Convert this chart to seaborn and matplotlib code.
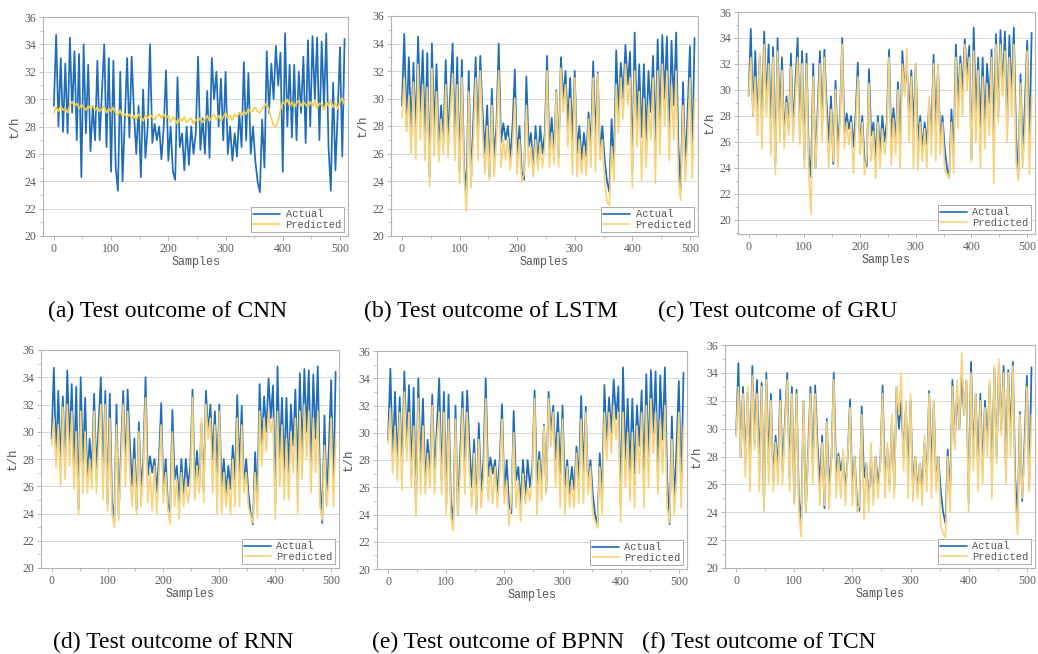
import matplotlib
matplotlib.use("Agg")
import matplotlib.pyplot as plt
import seaborn as sns
import numpy as np
from matplotlib.ticker import MultipleLocator

sns.set_theme(style="ticks")

# sample index (every 4th test sample)
samples = list(range(0, 512, 4))

actual = [29.5, 34.7, 28.0, 33.0, 27.6, 32.6, 27.5, 34.5, 29.0, 33.5, 27.0, 33.3, 24.3, 34.0, 27.5, 32.5,
          26.2, 29.5, 27.0, 32.8, 27.0, 30.5, 34.0, 26.5, 33.0, 24.7, 32.8, 25.0, 23.3, 32.0, 24.0, 28.5,
          33.0, 27.2, 33.1, 29.0, 26.0, 29.5, 24.3, 30.7, 25.7, 28.0, 34.0, 26.8, 28.2, 27.0, 28.0, 25.6,
          28.0, 32.1, 25.5, 28.0, 24.7, 24.1, 31.6, 26.5, 27.5, 24.8, 28.0, 25.2, 28.0, 26.0, 27.5, 33.1,
          26.3, 28.6, 26.0, 30.6, 25.7, 33.0, 30.0, 32.0, 28.0, 31.5, 27.0, 32.0, 26.0, 28.0, 25.5, 27.5,
          25.8, 29.0, 26.5, 32.7, 27.0, 31.9, 26.0, 28.0, 25.5, 24.0, 23.2, 28.5, 25.0, 33.5, 29.0, 32.6,
          30.0, 33.9, 31.0, 33.4, 24.7, 34.8, 28.0, 32.5, 27.2, 32.5, 27.0, 32.0, 29.0, 33.1, 26.8, 34.3,
          28.0, 34.6, 30.0, 34.5, 27.0, 34.2, 29.5, 34.8, 26.5, 23.3, 31.2, 24.8, 29.0, 33.8, 25.8, 34.4]

pred_cnn = [29.0, 29.4, 29.1, 29.5, 29.2, 29.3, 29.0, 29.6, 29.8, 29.5, 29.7, 29.3, 29.6, 29.4, 29.2, 29.5,
            29.3, 29.5, 29.2, 29.4, 29.1, 29.3, 29.5, 29.0, 29.3, 29.1, 29.4, 29.0, 28.8, 29.2, 28.7, 28.9,
            28.7, 28.9, 28.6, 28.8, 28.5, 28.9, 28.7, 28.4, 28.8, 28.6, 28.9, 28.7, 28.5, 28.8, 28.9, 28.6,
            28.9, 28.6, 28.8, 28.3, 28.7, 28.5, 28.2, 28.6, 28.4, 28.7, 28.3, 28.5, 28.6, 28.2, 28.5, 28.4,
            28.6, 28.3, 28.5, 28.8, 28.4, 28.7, 28.9, 28.5, 28.8, 28.4, 28.7, 29.0, 28.6, 28.8, 28.5, 28.9,
            28.7, 29.0, 28.8, 29.1, 28.9, 29.3, 29.0, 29.2, 29.4, 29.1, 29.0, 29.3, 29.5, 29.7, 29.2, 28.6,
            28.1, 28.0, 28.4, 29.2, 29.8, 29.6, 30.0, 29.5, 29.8, 29.4, 29.7, 29.9, 29.5, 29.8, 29.6, 29.4,
            29.8, 29.5, 29.9, 29.3, 29.7, 29.6, 29.2, 29.8, 29.5, 29.9, 29.4, 29.7, 29.3, 29.8, 30.1, 29.6]

pred_lstm = [28.6, 31.5, 27.6, 30.2, 26.0, 31.2, 25.6, 32.5, 27.0, 31.0, 25.5, 30.8, 23.6, 32.2, 25.8, 30.5,
             25.4, 28.5, 26.0, 31.0, 25.7, 29.0, 31.8, 25.5, 31.0, 23.8, 31.5, 24.2, 21.8, 30.5, 23.5, 27.0,
             31.5, 25.5, 32.0, 27.5, 24.5, 28.0, 24.0, 29.5, 24.3, 27.0, 32.0, 25.0, 27.0, 25.5, 27.2, 24.8,
             26.5, 30.0, 24.5, 27.0, 23.9, 24.5, 29.5, 25.0, 26.5, 24.3, 27.0, 24.8, 26.8, 25.0, 26.5, 32.0,
             25.0, 27.5, 25.2, 30.5, 25.0, 32.2, 29.0, 31.0, 26.5, 30.0, 24.5, 31.5, 24.3, 27.0, 24.5, 26.5,
             24.4, 28.5, 25.0, 31.5, 24.7, 31.8, 25.5, 27.0, 24.0, 22.5, 22.2, 26.5, 24.0, 31.0, 27.5, 31.5,
             28.5, 32.5, 29.5, 31.5, 23.5, 32.0, 26.5, 30.5, 24.0, 30.0, 25.0, 29.5, 27.0, 31.5, 23.8, 32.0,
             26.0, 32.5, 28.0, 32.0, 25.5, 31.0, 27.0, 32.0, 24.0, 22.6, 29.5, 24.0, 27.0, 31.5, 24.2, 30.0]

pred_gru = [29.5, 32.5, 28.0, 31.0, 26.5, 32.8, 25.5, 33.5, 28.0, 32.0, 25.0, 32.5, 23.5, 33.0, 26.0, 31.5,
            25.5, 29.0, 26.5, 31.8, 26.0, 29.5, 32.5, 25.8, 32.0, 24.0, 32.0, 23.5, 20.4, 31.0, 24.0, 27.5,
            32.0, 26.0, 32.5, 27.8, 24.0, 28.5, 24.5, 30.0, 24.0, 27.5, 33.5, 25.5, 27.5, 25.8, 27.5, 23.6,
            27.0, 31.0, 25.0, 27.5, 23.5, 24.8, 30.5, 24.5, 26.8, 23.2, 27.5, 24.0, 27.0, 25.0, 26.5, 32.5,
            24.2, 27.8, 25.0, 30.0, 24.0, 32.0, 29.5, 33.2, 26.0, 31.0, 24.0, 32.0, 23.8, 27.5, 24.5, 27.0,
            24.0, 29.5, 25.0, 32.0, 24.5, 32.0, 25.0, 27.5, 23.8, 23.5, 23.2, 27.5, 23.6, 32.5, 27.0, 32.0,
            28.0, 33.5, 30.0, 32.5, 24.5, 33.0, 26.0, 31.5, 24.0, 31.0, 25.5, 30.5, 26.5, 32.5, 22.8, 33.5,
            27.5, 33.5, 29.5, 33.0, 26.0, 32.5, 28.0, 33.5, 24.5, 23.0, 30.5, 24.0, 27.0, 33.0, 23.5, 29.5]

pred_rnn = [29.0, 31.0, 27.4, 30.5, 26.0, 31.8, 26.5, 32.0, 27.5, 31.5, 25.8, 30.0, 23.9, 31.5, 25.5, 30.0,
            25.5, 28.0, 25.8, 31.5, 25.5, 29.0, 32.0, 25.0, 32.0, 24.2, 31.0, 24.0, 23.0, 30.5, 23.5, 27.5,
            32.0, 26.0, 31.5, 27.0, 24.5, 28.0, 23.9, 30.0, 24.5, 27.0, 32.5, 24.8, 27.0, 24.2, 27.5, 24.0,
            27.0, 30.5, 24.8, 27.0, 24.2, 23.2, 30.0, 24.5, 26.5, 23.6, 27.0, 24.5, 26.5, 24.8, 26.0, 32.5,
            25.0, 27.5, 25.5, 31.0, 24.8, 32.0, 29.5, 31.0, 25.5, 30.5, 24.0, 31.5, 24.0, 27.0, 24.5, 26.5,
            23.9, 28.0, 24.5, 31.0, 24.5, 30.5, 25.5, 27.0, 24.5, 23.8, 23.3, 27.0, 23.7, 31.5, 27.5, 31.0,
            28.5, 31.5, 30.0, 31.0, 23.6, 31.5, 26.0, 30.5, 25.0, 29.5, 25.0, 30.0, 27.0, 31.0, 24.0, 31.5,
            26.5, 32.0, 28.0, 31.5, 25.5, 31.0, 27.0, 31.5, 24.5, 23.5, 29.0, 24.5, 26.5, 31.0, 24.5, 29.5]

pred_bpnn = [29.2, 31.8, 27.0, 30.5, 26.5, 31.5, 25.8, 33.0, 28.0, 31.5, 26.0, 30.5, 23.9, 32.5, 25.5, 30.5,
             25.5, 28.5, 26.0, 32.0, 25.5, 29.5, 31.5, 25.5, 31.5, 24.0, 31.0, 23.8, 22.8, 31.0, 24.0, 27.0,
             31.8, 25.5, 31.5, 27.0, 24.5, 28.5, 24.0, 29.5, 24.5, 26.5, 32.5, 25.0, 27.5, 24.8, 27.5, 24.5,
             27.0, 31.0, 24.8, 26.5, 23.2, 25.0, 30.0, 24.5, 26.5, 23.5, 27.0, 24.8, 26.0, 25.0, 26.8, 32.5,
             24.0, 28.0, 25.0, 30.5, 25.5, 32.5, 29.0, 31.5, 26.0, 30.0, 24.5, 31.0, 24.0, 27.5, 24.5, 26.5,
             24.5, 28.5, 24.8, 31.0, 24.8, 31.5, 25.5, 27.5, 24.0, 23.5, 23.0, 27.5, 24.0, 31.5, 28.0, 31.5,
             28.5, 32.0, 29.5, 31.5, 23.4, 31.5, 26.0, 30.0, 25.0, 30.0, 24.5, 30.5, 27.0, 31.5, 24.5, 32.0,
             26.0, 32.5, 28.5, 31.5, 25.5, 31.0, 27.0, 32.0, 24.5, 23.4, 29.5, 24.0, 26.5, 31.5, 24.5, 30.5]

pred_tcn = [29.5, 33.0, 28.0, 32.5, 26.5, 33.0, 25.5, 33.8, 28.5, 32.5, 25.5, 33.0, 24.0, 33.5, 26.0, 32.0,
            25.5, 29.0, 26.0, 32.0, 26.0, 30.0, 33.5, 25.5, 32.5, 24.5, 32.5, 24.0, 22.2, 32.0, 24.0, 28.0,
            32.5, 26.0, 32.5, 28.0, 24.5, 29.0, 24.5, 30.5, 24.2, 28.0, 33.5, 25.0, 28.0, 25.0, 28.5, 24.5,
            28.0, 31.5, 24.5, 28.0, 24.0, 24.5, 31.0, 23.5, 27.5, 24.0, 29.0, 24.5, 28.0, 25.0, 27.5, 32.5,
            25.0, 29.0, 25.5, 31.0, 25.0, 33.0, 31.0, 34.0, 27.0, 32.0, 25.0, 32.5, 24.8, 28.0, 25.0, 27.5,
            24.5, 29.5, 25.5, 32.5, 25.0, 32.0, 25.5, 28.0, 23.0, 22.5, 22.2, 28.0, 24.0, 33.0, 28.5, 33.5,
            30.0, 35.4, 31.0, 33.5, 24.0, 34.0, 27.0, 32.5, 25.5, 32.0, 26.0, 31.5, 28.0, 33.5, 25.0, 34.5,
            27.5, 35.0, 29.5, 34.0, 26.0, 34.0, 28.0, 34.5, 25.0, 22.4, 31.0, 25.0, 28.0, 33.0, 25.5, 31.0]

captions = ["(a) Test outcome of CNN", "(b) Test outcome of LSTM", "(c) Test outcome of GRU",
            "(d) Test outcome of RNN", "(e) Test outcome of BPNN", "(f) Test outcome of TCN"]
predictions = [pred_cnn, pred_lstm, pred_gru, pred_rnn, pred_bpnn, pred_tcn]

W, H = 1038, 654
# axes boxes in pixels: left, right, top, bottom
boxes = [(43, 348, 17, 236), (391, 698, 16, 236), (738, 1035, 12, 234),
         (41, 339, 350, 568), (377, 687, 351, 569), (725, 1035, 345, 568)]
ylows = [20, 20, 18.9, 20, 20, 20]
cap_pos = [(168, 311), (491, 311), (778, 311), (173, 642), (498, 642), (759, 642)]

blue = "#1f6cb8"
yellow = "#f8d27a"
grey = "#5a5a5a"

fig = plt.figure(figsize=(W / 100, H / 100), dpi=100)

for k in range(6):
    l, r, t, b = boxes[k]
    ax = fig.add_axes([l / W, 1 - b / H, (r - l) / W, (b - t) / H])
    ycol = "#f5cf4a" if k == 0 else yellow
    sns.lineplot(x=samples, y=actual, ax=ax, color=blue, linewidth=1.25, label="Actual")
    sns.lineplot(x=samples, y=predictions[k], ax=ax, color=ycol, linewidth=1.2, label="Predicted")

    ax.set_xlim(-19, 514)
    ax.set_ylim(ylows[k], 36)
    ax.set_xticks([0, 100, 200, 300, 400, 500])
    ax.set_yticks(range(20, 37, 2))
    ax.xaxis.set_minor_locator(MultipleLocator(50))
    ax.yaxis.set_minor_locator(MultipleLocator(1))
    ax.tick_params(which="major", direction="out", length=3, width=0.6, color="#aaaaaa",
                   labelsize=8.5, labelcolor=grey, pad=2)
    ax.tick_params(which="minor", direction="out", length=2, width=0.5, color="#aaaaaa")
    for lab in ax.get_xticklabels() + ax.get_yticklabels():
        lab.set_family("Liberation Serif")
    ax.grid(axis="y", which="major", color="#d8d8d8", linewidth=0.7)
    ax.set_axisbelow(True)
    for s in ax.spines.values():
        s.set_color("#b5b5b5")
        s.set_linewidth(0.8)
    ax.set_xlabel("Samples", family="Liberation Mono", fontsize=8.5, color="#555555", labelpad=1)
    ax.set_ylabel("t/h", family="Liberation Mono", fontsize=9, color="#555555", labelpad=2)
    leg = ax.legend(loc="lower right", prop={"family": "Liberation Mono", "size": 7.5},
                    frameon=True, fancybox=False, framealpha=1, edgecolor="#aaaaaa",
                    borderpad=0.2, handlelength=2.6, handletextpad=0.5, labelspacing=0.05,
                    borderaxespad=0.4)
    leg.get_frame().set_linewidth(0.7)
    for txt in leg.get_texts():
        txt.set_color("#555555")
    for line in leg.get_lines():
        line.set_linewidth(1.2)

    cx, cy = cap_pos[k]
    fig.text(cx / W, 1 - cy / H, captions[k], ha="center", va="center",
             family="Liberation Serif", fontsize=17, color="black")

fig.savefig("out.png", dpi=100)
